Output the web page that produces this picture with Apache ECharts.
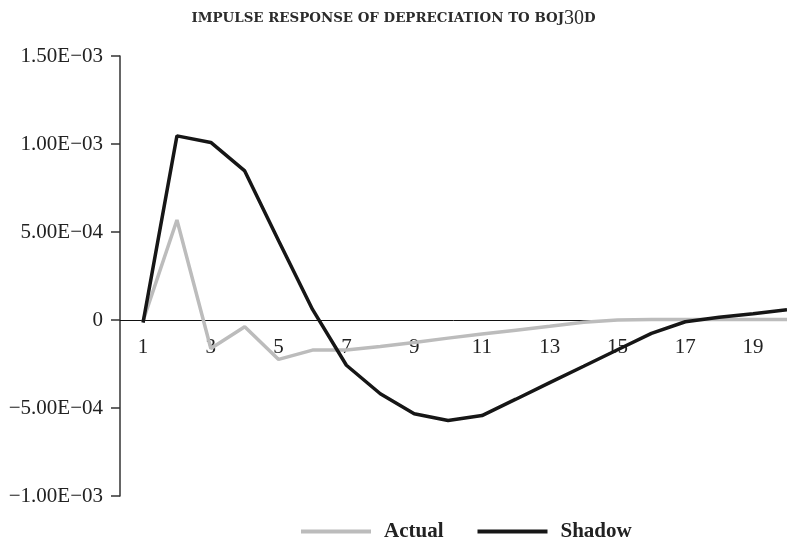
<!DOCTYPE html>
<html>
<head>
<meta charset="utf-8">
<title>Impulse response of depreciation to boj30d</title>
<script src="https://cdn.jsdelivr.net/npm/echarts@6/dist/echarts.min.js"></script>
<style>
  html, body { margin: 0; padding: 0; background: #ffffff; }
  #chart { width: 787px; height: 537px; }
</style>
</head>
<body>
<div id="chart"></div>
<script>
// Horizon (periods after the shock)
const periods = [1, 2, 3, 4, 5, 6, 7, 8, 9, 10, 11, 12, 13, 14, 15, 16, 17, 18, 19, 20];

// Response of depreciation, actual rate
const actual = [-0.000005, 0.000568, -0.000162, -0.000038, -0.000224, -0.000171, -0.000170,
  -0.000150, -0.000128, -0.000103, -0.000080, -0.000058, -0.000036, -0.000013, 0.0,
  0.000003, 0.000003, 0.000003, 0.000003, 0.000003];

// Response of depreciation, shadow rate
const shadow = [-0.000015, 0.001046, 0.001009, 0.000847, 0.000450, 0.000060, -0.000257,
  -0.000419, -0.000533, -0.000571, -0.000543, -0.000450, -0.000356, -0.000263, -0.000169,
  -0.000076, -0.000010, 0.000015, 0.000035, 0.000058];

// Labelled horizon ticks
const xTickValues = [1, 3, 5, 7, 9, 11, 13, 15, 17, 19];

// Vertical axis ticks
const yTickValues = [-0.001, -0.0005, 0, 0.0005, 0.001, 0.0015];
const yTickLabels = ['\u22121.00E\u221203', '\u22125.00E\u221204', '0', '5.00E\u221204', '1.00E\u221203', '1.50E\u221203'];

const serif = '"Liberation Serif", "DejaVu Serif", serif';
const wideSerif = '"DejaVu Serif", "Liberation Serif", serif';

// Plot area, in pixels
const gridTop = 56;
const gridBottom = 41;
const plotHeight = 537 - gridTop - gridBottom;
const yMin = -0.001;
const yMax = 0.0015;
// Lift the horizontal axis so it runs along the zero level
const zeroOffset = -plotHeight * (0 - yMin) / (yMax - yMin);

const chart = echarts.init(document.getElementById('chart'), null, { renderer: 'canvas' });

function pairs(values) {
  return periods.map((p, i) => [p, values[i]]);
}

chart.setOption({
  backgroundColor: '#ffffff',
  animation: false,
  title: {
    left: 'center',
    top: 4,
    text: '{s|IMPULSE RESPONSE OF DEPRECIATION TO BOJ}{n|30}{s|D}',
    textStyle: {
      rich: {
        s: { fontFamily: wideSerif, fontSize: 13.4, fontWeight: 'bold', color: '#2b2b2b' },
        n: { fontFamily: serif, fontSize: 20, fontWeight: 'normal', color: '#2b2b2b' }
      }
    }
  },
  legend: {
    left: 296,
    top: 516,
    icon: 'rect',
    itemWidth: 70,
    itemHeight: 4,
    itemGap: 34,
    data: ['Actual', 'Shadow'],
    textStyle: {
      fontFamily: serif,
      fontSize: 21,
      fontWeight: 'bold',
      color: '#222222',
      padding: [0, 0, 0, 8]
    }
  },
  grid: {
    left: 120,
    right: 0,
    top: gridTop,
    bottom: gridBottom
  },
  xAxis: {
    type: 'value',
    min: 0.32,
    max: 20,
    offset: zeroOffset,
    axisLine: {
      show: true,
      onZero: false,
      lineStyle: { color: '#111111', width: 1 }
    },
    axisTick: { show: false },
    splitLine: { show: false },
    axisLabel: {
      customValues: xTickValues,
      margin: 17,
      fontFamily: serif,
      fontSize: 21,
      color: '#222222'
    }
  },
  yAxis: {
    type: 'value',
    min: yMin,
    max: yMax,
    interval: 0.0005,
    axisLine: {
      show: true,
      onZero: false,
      lineStyle: { color: '#333333', width: 1.5 }
    },
    axisTick: {
      show: true,
      length: 9,
      lineStyle: { color: '#333333', width: 1.5 }
    },
    splitLine: { show: false },
    axisLabel: {
      margin: 17,
      fontFamily: serif,
      fontSize: 21,
      color: '#222222',
      formatter: function (v) {
        const i = yTickValues.findIndex(t => Math.abs(t - v) < 1e-9);
        return i >= 0 ? yTickLabels[i] : '';
      }
    }
  },
  series: [
    {
      name: 'Actual',
      type: 'line',
      data: pairs(actual),
      symbol: 'none',
      color: '#bcbcbc',
      lineStyle: { color: '#bcbcbc', width: 3.5 },
      z: 2
    },
    {
      name: 'Shadow',
      type: 'line',
      data: pairs(shadow),
      symbol: 'none',
      color: '#161616',
      lineStyle: { color: '#161616', width: 3.5 },
      z: 3
    }
  ]
});
</script>
</body>
</html>
